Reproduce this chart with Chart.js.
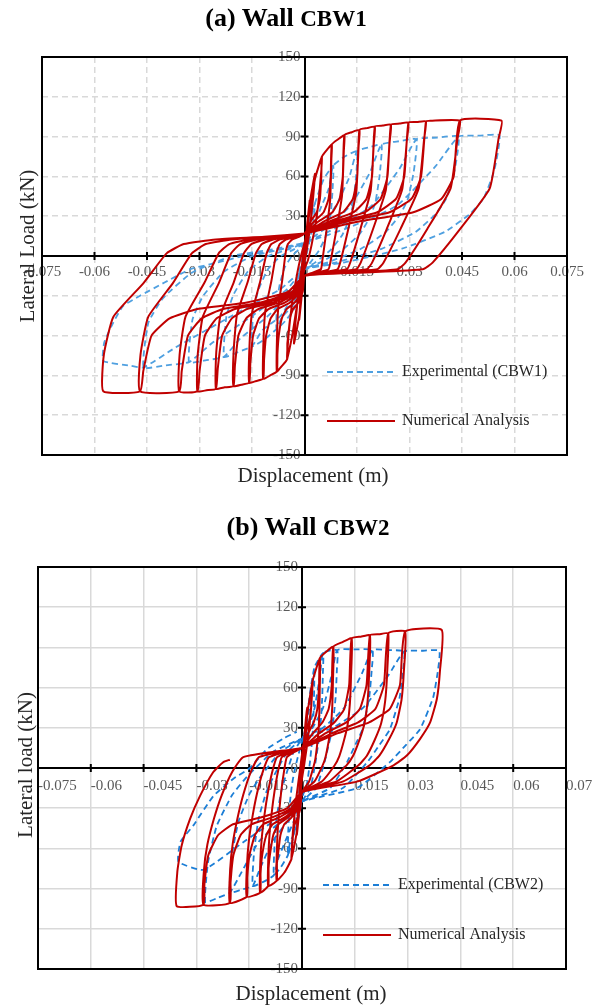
<!DOCTYPE html>
<html>
<head>
<meta charset="utf-8">
<script src="https://cdn.jsdelivr.net/npm/chart.js@4.4.1/dist/chart.umd.min.js"></script>
<style>
  html, body { margin: 0; padding: 0; background: #fff; }
  body { width: 592px; height: 1006px; position: relative; overflow: hidden;
         font-family: "Liberation Serif", "Times New Roman", serif; }
  .panel { position: absolute; left: 0; width: 592px; height: 503px; }
  .panel canvas { position: absolute; left: 0; top: 0; }
  .title { position: absolute; text-align: center; font-weight: bold; font-size: 26px; line-height: 30px; color: #000; white-space: nowrap; }
  .title span { font-size: 23px; }
  .ytitle { position: absolute; width: 260px; text-align: center; font-size: 21px; line-height: 24px; color: #262626;
            white-space: nowrap; transform: rotate(-90deg); }
  .xtitle { position: absolute; width: 260px; text-align: center; font-size: 21px; line-height: 24px; color: #262626; white-space: nowrap; }
</style>
</head>
<body>

<div class="panel" style="top:0">
  <canvas id="cbw1" width="592" height="503"></canvas>
  <div class="title" style="top:3px; left:186px; width:200px">(a) Wall <span>CBW1</span></div>
  <div class="ytitle" style="left:-103px; top:234px">Lateral Load (kN)</div>
  <div class="xtitle" style="left:183px; top:463px">Displacement (m)</div>
</div>

<div class="panel" style="top:503px">
  <canvas id="cbw2" width="592" height="503"></canvas>
  <div class="title" style="top:9px; left:208px; width:200px">(b) Wall <span>CBW2</span></div>
  <div class="ytitle" style="left:-105px; top:250px">Lateral load (kN)</div>
  <div class="xtitle" style="left:181px; top:478px">Displacement (m)</div>
</div>

<script>
// axis ticks
const xTicks = [-0.075, -0.06, -0.045, -0.03, -0.015, 0, 0.015, 0.03, 0.045, 0.06, 0.075];
const yTicks = [-150, -120, -90, -60, -30, 0, 30, 60, 90, 120, 150];

// Wall CBW1 - experimental (displacement m, load kN), one cycle per line
const cbw1Exp = [
  [0,0],[0.0015,25],[0.003,40],[0.0025,25],[0.0012,8],[0,-5],[-0.0015,-25],[-0.003,-40],[-0.0025,-25],[-0.0012,-8],[0,5],
  [0.0009,20],[0.0018,30],[0.003,40],[0.0055,58],[0.0082,68],[0.008,49],[0.00754,32.6],[0.00697,23.8],[0.0059,13.6],[0.0041,4],[0.00164,-5],[0,-10],[-0.0009,-20],[-0.0018,-30],[-0.003,-40],[-0.0055,-49],[-0.008,-55],[-0.00776,-33],[-0.00704,-20.9],[-0.0056,-8.3],[-0.0036,0],[-0.0016,5],[0,10],
  [0.00246,22],[0.00492,38],[0.00697,51],[0.0082,68],[0.0115,75],[0.015,79],[0.01463,57],[0.0138,38],[0.01275,27.7],[0.0108,15.8],[0.0075,4.7],[0.003,-5],[0,-10],[-0.0012,-25],[-0.0036,-38],[-0.0064,-46],[-0.008,-55],[-0.0115,-63],[-0.015,-68],[-0.01455,-40.8],[-0.0132,-25.8],[-0.0105,-10.2],[-0.00675,0],[-0.003,5],[0,10],
  [0.0045,22],[0.009,38],[0.01275,59],[0.015,79],[0.0185,82],[0.022,84],[0.02145,60.5],[0.02024,40.3],[0.0187,29.4],[0.01584,16.8],[0.011,5],[0.0044,-5],[0,-10],[-0.00225,-25],[-0.00675,-45],[-0.012,-55.8],[-0.015,-68],[-0.019,-72.5],[-0.023,-76],[-0.02231,-45.6],[-0.02024,-28.9],[-0.0161,-11.4],[-0.01035,0],[-0.0046,5],[0,10],
  [0.0066,22],[0.0132,38],[0.0187,63],[0.022,84],[0.027,86.5],[0.032,88],[0.0312,63.4],[0.02944,42.2],[0.0272,30.8],[0.02304,17.6],[0.016,5.3],[0.0064,-5],[0,-10],[-0.00345,-25],[-0.01035,-45],[-0.0184,-62.3],[-0.023,-76],[-0.028,-78.5],[-0.033,-80],[-0.03201,-48],[-0.02904,-30.4],[-0.0231,-12],[-0.01485,0],[-0.0066,5],[0,10],
  [0.0096,22],[0.0192,38],[0.0272,66],[0.032,88],[0.038,89.2],[0.044,90],[0.0429,64.8],[0.04048,43.2],[0.0374,31.5],[0.03168,18],[0.022,5.4],[0.0088,-5],[0,-10],[-0.00495,-25],[-0.01485,-45],[-0.0264,-65.6],[-0.033,-80],[-0.04,-82.5],[-0.046,-84],[-0.04462,-50.4],[-0.04048,-31.9],[-0.0322,-12.6],[-0.0207,0],[-0.0092,5],[0,10],
  [0.0132,22],[0.0264,38],[0.0374,67.5],[0.044,90],[0.05,90.7],[0.0557,91],[0.05431,65.5],[0.05124,43.7],[0.04735,31.9],[0.0401,18.2],[0.02785,5.5],[0.01114,-5],[0,-10],[-0.0069,-25],[-0.0207,-45],[-0.0368,-68.9],[-0.046,-84],[-0.05,-82.6],[-0.0575,-79],[-0.0572,-65],[-0.0546,-50],[-0.0518,-37.6],[-0.047,-30],[-0.04,-20],[-0.0327,-10],[-0.025,-5],[-0.0175,0],[-0.008,5],[0,10]
];

// Wall CBW1 - numerical analysis
const cbw1Num = [
  [0,0],[0.0008,25],[0.0015,42],[0.0012,30],[0.0005,8],[0,-3],[-0.0008,-30],[-0.0015,-48],[-0.0012,-35],[-0.0005,-10],[0,3],
  [0.0015,40],[0.003,62],[0.0025,45],[0.0015,20],[0.0005,2],[0,-5],[-0.0015,-45],[-0.003,-66],[-0.0025,-48],[-0.0015,-22],[-0.0005,-2],[0,8],
  [0.003,58],[0.005,75],[0.0045,55],[0.0035,30],[0.002,8],[0.001,-3],[0,-10],[-0.002,-35],[-0.0035,-60],[-0.005,-78],[-0.0045,-58],[-0.0035,-35],[-0.002,-12],[-0.001,0],[0,10],
  [0.00175,26],[0.0035,33],[0.0044,43],[0.0048,60],[0.005,75],[0.0064,80],[0.0078,84],[0.00768,73],[0.00733,42],[0.00616,17],[0.00507,-4],[0.00468,-10],[0.00234,-12.5],[0,-15],[-0.0005,-27],[-0.00175,-35],[-0.00325,-40],[-0.0041,-47],[-0.00465,-60],[-0.0049,-66],[-0.005,-78],[-0.0065,-83],[-0.0079,-87],[-0.00788,-63.5],[-0.0075,-39],[-0.00632,-17.4],[-0.00541,2],[-0.00474,9],[-0.00348,12.5],[-0.00158,14.5],[0,17],
  [0.00273,26],[0.00546,33],[0.00686,43],[0.00749,60],[0.0078,84],[0.0096,88],[0.0114,91],[0.01123,79],[0.01072,45.5],[0.00901,18],[0.00741,-4.5],[0.00684,-10],[0.00342,-12.5],[0,-15],[-0.00079,-27],[-0.00277,-35],[-0.00514,-40],[-0.00648,-47],[-0.00735,-60],[-0.00774,-74],[-0.0079,-87],[-0.0098,-90],[-0.0118,-92.5],[-0.01176,-67.5],[-0.01121,-41.6],[-0.00944,-18.5],[-0.00808,2],[-0.00708,9],[-0.00519,12.5],[-0.00236,14.5],[0,17],
  [0.00399,26],[0.00798,33],[0.01003,43],[0.01094,60],[0.0114,91],[0.0135,93.3],[0.0157,95],[0.01546,82.7],[0.01476,47.5],[0.0124,19],[0.01021,-4.8],[0.00942,-10],[0.00471,-12.5],[0,-15],[-0.00118,-27],[-0.00413,-35],[-0.00767,-40],[-0.00968,-47],[-0.01097,-60],[-0.01156,-78.6],[-0.0118,-92.5],[-0.0138,-94.2],[-0.0158,-95.5],[-0.01575,-69.7],[-0.01501,-43],[-0.01264,-19.1],[-0.01082,2],[-0.00948,9],[-0.00695,12.5],[-0.00316,14.5],[0,17],
  [0.0055,26],[0.011,33],[0.01382,43],[0.01507,60],[0.0157,95],[0.0179,96.4],[0.0201,97.5],[0.0198,84.8],[0.01889,48.8],[0.01588,19.5],[0.01307,-4.9],[0.01206,-10],[0.00603,-12.5],[0,-15],[-0.00158,-27],[-0.00553,-35],[-0.01027,-40],[-0.01296,-47],[-0.01469,-60],[-0.01548,-81],[-0.0158,-95.5],[-0.018,-97],[-0.0203,-98],[-0.02024,-71.5],[-0.01929,-44],[-0.01624,-19.6],[-0.01391,2],[-0.01218,9],[-0.00893,12.5],[-0.00406,14.5],[0,17],
  [0.00704,26],[0.01407,33],[0.01769,43],[0.0193,60],[0.0201,97.5],[0.0224,98.3],[0.0247,99],[0.02433,86],[0.02322,49.5],[0.01951,19.8],[0.01606,-5],[0.01482,-10],[0.00741,-12.5],[0,-15],[-0.00203,-27],[-0.0071,-35],[-0.0132,-40],[-0.01665,-47],[-0.01888,-60],[-0.01989,-83],[-0.0203,-98],[-0.0228,-99],[-0.0253,-100],[-0.02522,-73],[-0.02404,-45],[-0.02024,-20],[-0.01733,2],[-0.01518,9],[-0.01113,12.5],[-0.00506,14.5],[0,17],
  [0.00865,26],[0.01729,33],[0.02174,43],[0.02371,60],[0.0247,99],[0.0272,99.8],[0.0297,100.5],[0.02925,87.4],[0.02792,50.3],[0.02346,20.1],[0.01931,-5],[0.01782,-10],[0.00891,-12.5],[0,-15],[-0.00253,-27],[-0.00886,-35],[-0.01645,-40],[-0.02075,-47],[-0.02353,-60],[-0.02479,-85],[-0.0253,-100],[-0.028,-101.2],[-0.0306,-102],[-0.03051,-74.5],[-0.02907,-45.9],[-0.02448,-20.4],[-0.02096,2],[-0.01836,9],[-0.01346,12.5],[-0.00612,14.5],[0,17],
  [0.0104,26],[0.02079,33],[0.02614,43],[0.02851,60],[0.0297,100.5],[0.0322,101],[0.0347,101.5],[0.03418,88.3],[0.03262,50.8],[0.02741,20.3],[0.02256,-5],[0.02082,-10],[0.01041,-12.5],[0,-15],[-0.00306,-27],[-0.01071,-35],[-0.01989,-40],[-0.02509,-47],[-0.02846,-60],[-0.02999,-86.7],[-0.0306,-102],[-0.0358,-102],[-0.03569,-74.5],[-0.03401,-45.9],[-0.02864,-20.4],[-0.02452,2],[-0.02148,9],[-0.01575,12.5],[-0.00716,14.5],[0,17],
  [0.01215,26],[0.02429,33],[0.03054,43],[0.03331,60],[0.0347,101.5],[0.036,102],[0.0444,102],[0.04373,88.7],[0.04174,51],[0.03508,20.4],[0.02886,-5],[0.02664,-10],[0.01332,-12.5],[0,-15],[-0.00358,-27],[-0.01253,-35],[-0.02327,-40],[-0.02936,-47],[-0.03329,-60],[-0.03508,-86.7],[-0.0358,-102],[-0.047,-102],[-0.04686,-74.5],[-0.04465,-45.9],[-0.0376,-20.4],[-0.0322,2],[-0.0282,9],[-0.02068,12.5],[-0.0094,14.5],[0,17],
  [0.01554,26],[0.03108,33],[0.03907,43],[0.04262,60],[0.0444,102],[0.0563,102],[0.05546,88.7],[0.05292,51],[0.04448,20.4],[0.0366,-5],[0.03378,-10],[0.01689,-12.5],[0,-15],[-0.0047,-27],[-0.01645,-35],[-0.03055,-40],[-0.03854,-47],[-0.04371,-60],[-0.04606,-86.7],[-0.047,-102],[-0.0575,-102],[-0.05733,-74.5],[-0.05463,-45.9],[-0.046,-20.4],[-0.03939,2],[-0.0345,9],[-0.0253,12.5],[-0.0115,14.5],[0,17]
];

// Wall CBW2 - experimental
const cbw2Exp = [
  [0,0],[0.0008,25],[0.0015,40],[0.001,22],[0,5],[-0.0008,-22],[-0.0015,-40],[-0.001,-22],[0,-3],
  [0.0008,25],[0.0015,40],[0.0025,60],[0.0035,75],[0.00347,62],[0.00334,45],[0.00301,25],[0.00266,15],[0.00224,4],[0.0014,-12],[0,-22],[-0.0008,-30],[-0.0015,-40],[-0.0028,-55],[-0.004,-65],[-0.00388,-45.5],[-0.00352,-28],[-0.00288,-13],[-0.0022,-3],[-0.0012,8],[0,20],
  [0.00105,30],[0.0021,45],[0.003,60],[0.0035,75],[0.006,86],[0.00594,71.4],[0.00573,51.6],[0.00516,28.4],[0.00456,17.2],[0.00384,4.3],[0.0024,-15],[0,-25],[-0.0012,-40],[-0.0024,-50],[-0.0034,-55],[-0.004,-65],[-0.006,-74],[-0.008,-80],[-0.00776,-56],[-0.00704,-34.4],[-0.00576,-16],[-0.0044,-4],[-0.0024,12],[0,22],
  [0.0018,30],[0.0036,45],[0.0051,69],[0.006,86],[0.01,88],[0.0099,73],[0.00955,52.8],[0.0086,29],[0.0076,17.6],[0.0064,4.4],[0.004,-15],[0,-25],[-0.0024,-40],[-0.0048,-55],[-0.0068,-68],[-0.008,-80],[-0.011,-85],[-0.014,-88],[-0.01358,-61.6],[-0.01232,-37.8],[-0.01008,-17.6],[-0.0077,-4.4],[-0.0042,12],[0,22],
  [0.003,30],[0.006,45],[0.0085,70],[0.01,88],[0.015,88.5],[0.02,88],[0.0198,73],[0.0191,52.8],[0.0172,29],[0.0152,17.6],[0.0128,4.4],[0.008,-15],[0,-25],[-0.0042,-40],[-0.0084,-55],[-0.0119,-74.8],[-0.014,-88],[-0.0175,-91],[-0.0205,-93],[-0.01989,-65],[-0.01804,-40],[-0.01476,-18.6],[-0.01128,-4.7],[-0.00615,12],[0,22],
  [0.006,30],[0.012,45],[0.017,70.4],[0.02,88],[0.0245,88],[0.029,87],[0.02871,72.2],[0.0277,52.2],[0.02494,28.7],[0.02204,17.4],[0.01856,4.4],[0.0116,-15],[0,-25],[-0.00615,-40],[-0.0123,-55],[-0.01743,-79],[-0.0205,-93],[-0.024,-97],[-0.0275,-100],[-0.02668,-70],[-0.0242,-43],[-0.0198,-20],[-0.01513,-5],[-0.00825,12],[0,22],
  [0.0087,30],[0.0174,45],[0.02465,69.6],[0.029,87],[0.034,87.5],[0.039,87.5],[0.03861,72.6],[0.03725,52.5],[0.03354,28.9],[0.02964,17.5],[0.02496,4.4],[0.0156,-15],[0,-25],[-0.00825,-40],[-0.0165,-55],[-0.028,-76],[-0.0351,-70],[-0.0345,-55],[-0.0309,-43],[-0.0252,-21],[-0.0195,-8],[-0.0148,0],[-0.01,14],[-0.0053,22],[-0.0015,27]
];

// Wall CBW2 - numerical analysis
const cbw2Num = [
  [0,0],[0.0008,28],[0.0015,45],[0.0012,30],[0.0005,8],[0,-4],[-0.0008,-32],[-0.0015,-50],[-0.0012,-35],[-0.0005,-10],[0,4],
  [0.0015,40],[0.003,65],[0.0026,45],[0.0016,20],[0.0006,2],[0,-8],[-0.0015,-48],[-0.003,-68],[-0.0026,-48],[-0.0016,-22],[-0.0006,-2],[0,10],
  [0.00105,26],[0.00195,34],[0.00255,44],[0.00285,58],[0.003,65],[0.0051,82],[0.00503,57.4],[0.00492,41],[0.00468,27],[0.0043,17.2],[0.00383,7.4],[0.00334,1.6],[0.00204,-10],[0,-18],[-0.00045,-30],[-0.00126,-37],[-0.0021,-42],[-0.00255,-50],[-0.00285,-60],[-0.003,-68],[-0.005,-78],[-0.0072,-84],[-0.00716,-63],[-0.00691,-47],[-0.00643,-31],[-0.00587,-16.8],[-0.00511,-2.5],[-0.00432,8],[-0.00216,12],[0,15],
  [0.00179,26],[0.00332,34],[0.00434,44],[0.00485,62],[0.0051,82],[0.007,87],[0.0089,90.5],[0.00878,63.4],[0.00859,45.3],[0.00816,29.9],[0.00751,19],[0.00668,8.1],[0.00583,1.8],[0.00356,-10],[0,-18],[-0.00108,-30],[-0.00302,-37],[-0.00504,-42],[-0.00612,-50],[-0.00684,-65],[-0.00713,-71.4],[-0.0072,-84],[-0.0096,-88],[-0.00955,-66],[-0.00922,-49.3],[-0.00857,-32.6],[-0.00782,-17.6],[-0.00682,-2.6],[-0.00576,8],[-0.00288,12],[0,15],
  [0.00312,26],[0.00579,34],[0.00757,44],[0.00846,62],[0.0089,90.5],[0.0115,94],[0.0141,96.7],[0.01392,67.7],[0.01361,48.4],[0.01293,31.9],[0.0119,20.3],[0.01058,8.7],[0.00924,1.9],[0.00564,-10],[0,-18],[-0.00144,-30],[-0.00403,-37],[-0.00672,-42],[-0.00816,-50],[-0.00912,-65],[-0.0095,-74.8],[-0.0096,-88],[-0.0119,-93],[-0.01184,-69.8],[-0.01142,-52],[-0.01063,-34.4],[-0.0097,-18.6],[-0.00845,-2.8],[-0.00714,8],[-0.00357,12],[0,15],
  [0.00494,26],[0.00917,34],[0.01199,44],[0.0134,62],[0.0141,96.7],[0.0167,98],[0.0193,99],[0.01905,69.3],[0.01862,49.5],[0.0177,32.7],[0.01629,20.8],[0.01448,8.9],[0.01264,2],[0.00772,-10],[0,-18],[-0.00179,-30],[-0.005,-37],[-0.00833,-42],[-0.01012,-50],[-0.01131,-65],[-0.01178,-79],[-0.0119,-93],[-0.0157,-96],[-0.01562,-72],[-0.01507,-53.8],[-0.01402,-35.5],[-0.0128,-19.2],[-0.01115,-2.9],[-0.00942,8],[-0.00471,12],[0,15],
  [0.00676,26],[0.01255,34],[0.01641,44],[0.01834,62],[0.0193,99],[0.0219,99.8],[0.0245,100.5],[0.02418,70.4],[0.02364,50.3],[0.02247,33.2],[0.02068,21.1],[0.01838,9],[0.01605,2],[0.0098,-10],[0,-18],[-0.00236,-30],[-0.00659,-37],[-0.01099,-42],[-0.01335,-50],[-0.01492,-65],[-0.01554,-81.6],[-0.0157,-96],[-0.0205,-100.7],[-0.0204,-75.5],[-0.01968,-56.4],[-0.01831,-37.3],[-0.01671,-20.1],[-0.01456,-3],[-0.0123,8],[-0.00615,12],[0,15],
  [0.00858,26],[0.01593,34],[0.02083,44],[0.02328,62],[0.0245,100.5],[0.0293,101.8],[0.02892,71.3],[0.02827,50.9],[0.02687,33.6],[0.02473,21.4],[0.02198,9.2],[0.01919,2],[0.01172,-10],[0,-18],[-0.00308,-30],[-0.00861,-37],[-0.01435,-42],[-0.01743,-50],[-0.01948,-65],[-0.0203,-85.6],[-0.0205,-100.7],[-0.028,-102],[-0.02786,-76.5],[-0.02688,-57.1],[-0.025,-37.7],[-0.02282,-20.4],[-0.01988,-3.1],[-0.0168,8],[-0.0084,12],[0,15],
  [0.01026,26],[0.01905,34],[0.02491,44],[0.02784,62],[0.0293,101.8],[0.0397,103],[0.03918,72.1],[0.03831,51.5],[0.0364,34],[0.03351,21.6],[0.02978,9.3],[0.026,2],[0.01588,-10],[0,-18],[-0.0042,-30],[-0.01176,-37],[-0.0196,-42],[-0.0238,-50],[-0.0266,-65],[-0.02772,-86.7],[-0.028,-102],[-0.0356,-103],[-0.0354,-77],[-0.0342,-58],[-0.0318,-38],[-0.029,-21],[-0.0252,-3],[-0.0224,4.3],[-0.0205,6.2]
];

const toPoints = arr => arr.map(p => ({ x: p[0], y: p[1] }));
const serif = '"Liberation Serif", "Times New Roman", serif';

// frame round the plot, crossing tick marks and y labels on the zero axes, legend inside the plot
const framePlugin = {
  id: 'frame',
  beforeDatasetsDraw(chart) {
    const { ctx, scales: { x, y } } = chart;
    const x0 = x.getPixelForValue(0);
    const y0 = y.getPixelForValue(0);
    ctx.save();
    ctx.strokeStyle = '#000';
    ctx.lineWidth = 2;
    ctx.beginPath();
    xTicks.forEach(v => {
      const px = x.getPixelForValue(v);
      ctx.moveTo(px, y0 - 4); ctx.lineTo(px, y0 + 4);
    });
    yTicks.forEach(v => {
      const py = y.getPixelForValue(v);
      ctx.moveTo(x0 - 4, py); ctx.lineTo(x0 + 4, py);
    });
    ctx.stroke();

    // y tick labels sit just left of the vertical axis
    ctx.fillStyle = '#595959';
    ctx.font = '15px ' + serif;
    ctx.textAlign = 'right';
    ctx.textBaseline = 'middle';
    yTicks.forEach(v => {
      const dy = v === 0 ? 1 : 0;
      ctx.fillText(String(v), x0 - 4, y.getPixelForValue(v) + dy);
    });
    ctx.restore();
  },
  afterDraw(chart, args, opts) {
    const { ctx, chartArea: a } = chart;
    ctx.save();
    ctx.strokeStyle = '#000';
    ctx.lineWidth = 2;
    ctx.strokeRect(a.left, a.top, a.right - a.left, a.bottom - a.top);

    chart.data.datasets.forEach((ds, i) => {
      const ly = opts.legendY[i];
      ctx.beginPath();
      ctx.strokeStyle = ds.borderColor;
      ctx.lineWidth = ds.borderWidth;
      ctx.setLineDash(ds.borderDash || []);
      ctx.moveTo(opts.legendX, ly);
      ctx.lineTo(opts.legendX + opts.legendLen, ly);
      ctx.stroke();
      ctx.setLineDash([]);
      ctx.fillStyle = '#262626';
      ctx.font = '16px ' + serif;
      ctx.textBaseline = 'middle';
      ctx.fillText(ds.label, opts.legendX + opts.legendLen + 7, ly);
    });
    ctx.restore();
  }
};

// labels that hang past the plot edge must not shrink the plot area
const noEdgePadding = s => {
  s.paddingLeft = 0; s.paddingRight = 0; s.paddingTop = 0; s.paddingBottom = 0;
};

function makeChart(id, expData, numData, cfg) {
  return new Chart(document.getElementById(id), {
    type: 'scatter',
    data: {
      datasets: [
        {
          label: cfg.expLabel,
          data: toPoints(expData),
          showLine: true,
          borderColor: cfg.blue,
          borderWidth: 1.8,
          borderDash: [6, 4],
          order: 2
        },
        {
          label: 'Numerical Analysis',
          data: toPoints(numData),
          showLine: true,
          borderColor: '#C00000',
          borderWidth: 2,
          order: 1
        }
      ]
    },
    options: {
      responsive: false,
      animation: false,
      layout: { padding: cfg.padding },
      elements: { point: { radius: 0 }, line: { tension: 0.15 } },
      plugins: {
        legend: { display: false },
        tooltip: { enabled: false },
        frame: { legendX: cfg.legendX, legendLen: 68, legendY: cfg.legendY }
      },
      scales: {
        x: {
          type: 'linear',
          min: -0.075,
          max: 0.075,
          position: { y: 0 },
          afterBuildTicks: s => { s.ticks = xTicks.map(v => ({ value: v })); },
          afterFit: noEdgePadding,
          ticks: {
            autoSkip: false,
            maxRotation: 0,
            padding: cfg.xPad,
            align: cfg.xAlign,
            color: '#595959',
            font: { family: serif, size: 15 },
            callback: v => String(+(+v).toFixed(3))
          },
          grid: { color: '#d9d9d9', lineWidth: 1.5, drawTicks: false },
          border: { color: '#000', width: 2, dash: cfg.gridDash }
        },
        y: {
          type: 'linear',
          min: -150,
          max: 150,
          position: { x: 0 },
          afterBuildTicks: s => { s.ticks = yTicks.map(v => ({ value: v })); },
          afterFit: noEdgePadding,
          ticks: { display: false },
          grid: { color: '#d9d9d9', lineWidth: 1.5, drawTicks: false },
          border: { color: '#000', width: 2, dash: cfg.gridDash }
        }
      }
    },
    plugins: [framePlugin]
  });
}

makeChart('cbw1', cbw1Exp, cbw1Num, {
  expLabel: 'Experimental (CBW1)',
  blue: '#4FA0E0',
  padding: { left: 42, right: 25, top: 57, bottom: 48 },
  xAlign: 'center',
  xPad: 7,
  gridDash: [6, 4],
  legendX: 327,
  legendY: [372, 421]
});

makeChart('cbw2', cbw2Exp, cbw2Num, {
  expLabel: 'Experimental (CBW2)',
  blue: '#1C7ED6',
  padding: { left: 38, right: 26, top: 64, bottom: 37 },
  xAlign: 'start',
  xPad: 9,
  gridDash: [],
  legendX: 323,
  legendY: [382, 432]
});
</script>
</body>
</html>
